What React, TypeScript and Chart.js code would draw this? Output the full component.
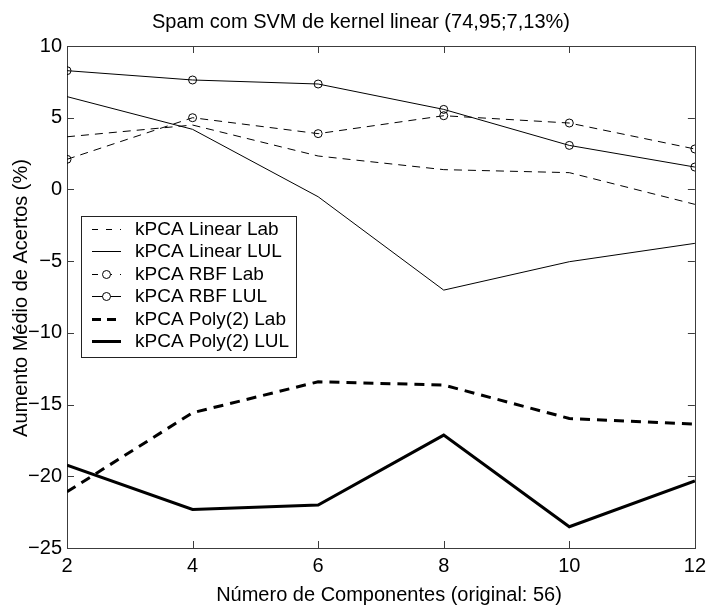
import React, { useEffect, useRef } from "react";
import { Chart, registerables } from "chart.js";

Chart.register(...registerables);

// Number of components on the horizontal axis
const components = [2, 4, 6, 8, 10, 12];

// Mean accuracy gain (%) per method
const linearLab = [3.67, 4.49, 2.33, 1.38, 1.17, -1.04];
const linearLUL = [6.47, 4.19, -0.51, -7.02, -5.04, -3.76];
const rbfLab = [2.1, 5.0, 3.89, 5.14, 4.63, 2.82];
const rbfLUL = [8.28, 7.63, 7.35, 5.58, 3.07, 1.56];
const polyLab = [-21.08, -15.57, -13.41, -13.64, -15.97, -16.36];
const polyLUL = [-19.22, -22.31, -22.01, -17.13, -23.52, -20.33];

const seriesNames = [
  "kPCA Linear Lab",
  "kPCA Linear LUL",
  "kPCA RBF Lab",
  "kPCA RBF LUL",
  "kPCA Poly(2) Lab",
  "kPCA Poly(2) LUL",
];

const xTicks = [2, 4, 6, 8, 10, 12];
const yTicks = [10, 5, 0, -5, -10, -15, -20, -25];

const titleText = "Spam com SVM de kernel linear (74,95;7,13%)";
const xTitle = "Número de Componentes (original: 56)";
const yTitle = "Aumento Médio de Acertos (%)";

const FONT = "Liberation Sans, Arial, Helvetica, sans-serif";
const FRAME = "#3c3c3c";

const toPoints = (ys: number[]) => components.map((x, i) => ({ x, y: ys[i] }));

type Style = { width: number; dash: number[]; marker: boolean };
const styles: Style[] = [
  { width: 1, dash: [8, 6], marker: false },
  { width: 1, dash: [], marker: false },
  { width: 1, dash: [8, 6], marker: true },
  { width: 1, dash: [], marker: true },
  { width: 3, dash: [10, 7], marker: false },
  { width: 3, dash: [], marker: false },
];

const seriesValues = [linearLab, linearLUL, rbfLab, rbfLUL, polyLab, polyLUL];

const fmt = (v: number) => String(v).replace("-", "\u2212");

const framePlugin = {
  id: "frameAndText",
  beforeDatasetsDraw(chart: any) {
    const { ctx, chartArea: a, scales } = chart;
    ctx.save();
    ctx.strokeStyle = FRAME;
    ctx.lineWidth = 1;
    ctx.setLineDash([]);
    ctx.strokeRect(Math.round(a.left) + 0.5, Math.round(a.top) + 0.5, Math.round(a.right - a.left), Math.round(a.bottom - a.top));
    const tl = 7;
    ctx.beginPath();
    xTicks.forEach((v) => {
      const px = Math.round(scales.x.getPixelForValue(v)) + 0.5;
      ctx.moveTo(px, a.bottom);
      ctx.lineTo(px, a.bottom - tl);
      ctx.moveTo(px, a.top);
      ctx.lineTo(px, a.top + tl);
    });
    yTicks.forEach((v) => {
      const py = Math.round(scales.y.getPixelForValue(v)) + 0.5;
      ctx.moveTo(a.left, py);
      ctx.lineTo(a.left + tl, py);
      ctx.moveTo(a.right, py);
      ctx.lineTo(a.right - tl, py);
    });
    ctx.stroke();
    ctx.restore();
  },
  afterDraw(chart: any) {
    const { ctx } = chart;
    ctx.save();
    ctx.fillStyle = "#000";
    ctx.font = `20px ${FONT}`;
    ctx.textAlign = "center";
    ctx.textBaseline = "alphabetic";
    ctx.fillText(titleText, 361, 28);
    ctx.fillText(xTitle, 389, 601);
    ctx.translate(27, 298);
    ctx.rotate(-Math.PI / 2);
    ctx.fillText(yTitle, 0, 0);
    ctx.restore();

    // legend box
    const bx = 81, by = 216, bw = 215, bh = 141;
    ctx.save();
    ctx.fillStyle = "#fff";
    ctx.fillRect(bx, by, bw, bh);
    ctx.strokeStyle = "#222";
    ctx.lineWidth = 1;
    ctx.strokeRect(bx + 0.5, by + 0.5, bw, bh);
    const row0 = 228.5, step = 22.5;
    chart.data.datasets.forEach((ds: any, i: number) => {
      const st = styles[i];
      const cy = Math.round(row0 + i * step) + (st.width % 2 ? 0.5 : 0);
      ctx.strokeStyle = "#000";
      ctx.lineWidth = st.width;
      ctx.setLineDash(st.dash.length ? (st.width > 1 ? [9, 6] : [6, 8]) : []);
      ctx.beginPath();
      ctx.moveTo(92, cy);
      ctx.lineTo(121, cy);
      ctx.stroke();
      ctx.setLineDash([]);
      if (st.marker) {
        ctx.fillStyle = "#fff";
        ctx.beginPath();
        ctx.arc(106.5, cy, 4, 0, Math.PI * 2);
        ctx.fill();
        ctx.lineWidth = 1;
        ctx.stroke();
      }
      ctx.fillStyle = "#000";
      ctx.font = `19px ${FONT}`;
      ctx.textAlign = "left";
      ctx.textBaseline = "middle";
      ctx.fillText(ds.label, 135, Math.round(row0 + i * step) + 1);
    });
    ctx.restore();
  },
};

export default function App() {
  const ref = useRef<HTMLCanvasElement | null>(null);

  useEffect(() => {
    document.body.style.margin = "0";
    const canvas = ref.current;
    if (!canvas) return;
    const chart = new Chart(canvas, {
      type: "line",
      data: {
        datasets: seriesValues.map((vals, i) => ({
          label: seriesNames[i],
          data: toPoints(vals),
          borderColor: "#000",
          borderWidth: styles[i].width,
          borderDash: styles[i].dash,
          pointRadius: styles[i].marker ? 4 : 0,
          pointHoverRadius: styles[i].marker ? 4 : 0,
          pointStyle: "circle",
          pointBorderColor: "#000",
          pointBackgroundColor: "rgba(255,255,255,0)",
          pointBorderWidth: 1,
          tension: 0,
          fill: false,
        })),
      },
      options: {
        animation: false,
        responsive: false,
        devicePixelRatio: 1,
        layout: { padding: { top: 46, right: 15, left: 0, bottom: 0 } },
        plugins: {
          legend: { display: false },
          title: { display: false },
          tooltip: { enabled: false },
        },
        scales: {
          x: {
            type: "linear",
            min: 2,
            max: 12,
            afterFit: (s: any) => {
              s.height = 57;
            },
            afterBuildTicks: (s: any) => {
              s.ticks = xTicks.map((v) => ({ value: v }));
            },
            grid: { display: false, drawTicks: false },
            border: { display: false },
            ticks: {
              color: "#000",
              font: { family: FONT, size: 20 },
              padding: 6,
              maxRotation: 0,
              callback: (v: any) => fmt(Number(v)),
            },
          },
          y: {
            type: "linear",
            min: -25,
            max: 10,
            afterFit: (s: any) => {
              s.width = 67;
            },
            afterBuildTicks: (s: any) => {
              s.ticks = yTicks.map((v) => ({ value: v }));
            },
            grid: { display: false, drawTicks: false },
            border: { display: false },
            ticks: {
              color: "#000",
              font: { family: FONT, size: 20 },
              padding: 5,
              callback: (v: any) => fmt(Number(v)),
            },
          },
        },
      },
      plugins: [framePlugin],
    });
    return () => chart.destroy();
  }, []);

  return (
    <div style={{ position: "fixed", left: 0, top: 0, width: 712, height: 605, background: "#fff" }}>
      <canvas ref={ref} width={712} height={605} style={{ display: "block" }} />
    </div>
  );
}
